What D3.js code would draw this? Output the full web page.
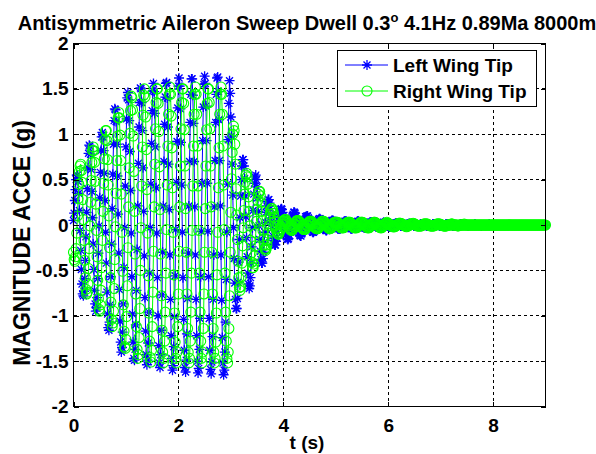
<!DOCTYPE html>
<html>
<head>
<meta charset="utf-8">
<script src="https://cdn.jsdelivr.net/npm/d3@7"></script>
<style>
  body { margin: 0; background: #fff; }
  svg { display: block; }
  text { font-family: "Liberation Sans", Arial, sans-serif; font-weight: bold; fill: #000; }
</style>
</head>
<body>
<svg id="chart" width="596" height="454"></svg>
<script>
// Wing-tip accelerations (g), one sample every sampleInterval seconds from t = 0
const sampleInterval = 0.0125;

const leftWingTip = [
  0.05, 0.13, 0.27, 0.39, 0.50, 0.55, 0.55, 0.48, 0.35, 0.16, -0.06, -0.28, -0.49, -0.65, -0.76, -0.78, -0.73, -0.59, -0.39, -0.13,
  0.14, 0.40, 0.63, 0.79, 0.88, 0.87, 0.78, 0.61, 0.37, 0.08, -0.21, -0.49, -0.72, -0.87, -0.95, -0.91, -0.80, -0.59, -0.31, -0.01,
  0.30, 0.58, 0.82, 0.97, 1.02, 0.97, 0.82, 0.57, 0.27, -0.08, -0.42, -0.74, -0.98, -1.13, -1.16, -1.07, -0.88, -0.57, -0.21, 0.18,
  0.56, 0.89, 1.15, 1.28, 1.27, 1.14, 0.89, 0.54, 0.12, -0.31, -0.71, -1.06, -1.29, -1.40, -1.35, -1.18, -0.87, -0.47, -0.03, 0.43,
  0.86, 1.17, 1.40, 1.46, 1.38, 1.15, 0.81, 0.38, -0.09, -0.57, -0.98, -1.29, -1.47, -1.49, -1.37, -1.10, -0.72, -0.27, 0.21, 0.68,
  1.08, 1.35, 1.51, 1.50, 1.35, 1.04, 0.63, 0.15, -0.34, -0.80, -1.17, -1.43, -1.54, -1.49, -1.30, -0.96, -0.53, -0.03, 0.45, 0.90,
  1.26, 1.48, 1.56, 1.47, 1.23, 0.86, 0.41, -0.09, -0.58, -1.00, -1.33, -1.52, -1.57, -1.43, -1.16, -0.77, -0.30, 0.21, 0.70, 1.11,
  1.41, 1.56, 1.57, 1.40, 1.08, 0.67, 0.17, -0.33, -0.82, -1.22, -1.47, -1.60, -1.55, -1.34, -1.01, -0.56, -0.05, 0.47, 0.92, 1.29,
  1.53, 1.62, 1.53, 1.28, 0.91, 0.44, -0.08, -0.58, -1.04, -1.38, -1.57, -1.62, -1.49, -1.20, -0.81, -0.31, 0.21, 0.70, 1.13, 1.44,
  1.61, 1.61, 1.43, 1.12, 0.70, 0.20, -0.33, -0.82, -1.22, -1.50, -1.63, -1.58, -1.37, -1.03, -0.57, -0.07, 0.46, 0.93, 1.30, 1.55,
  1.64, 1.56, 1.31, 0.93, 0.46, -0.07, -0.57, -1.03, -1.38, -1.59, -1.64, -1.51, -1.23, -0.82, -0.33, 0.20, 0.71, 1.13, 1.44, 1.62,
  1.63, 1.47, 1.16, 0.71, 0.21, -0.33, -0.83, -1.24, -1.52, -1.65, -1.60, -1.40, -1.07, -0.60, -0.08, 0.45, 0.94, 1.34, 1.59, 1.45,
  1.19, 0.98, 0.67, 0.33, -0.03, -0.37, -0.64, -0.82, -0.92, -0.92, -0.81, -0.63, -0.41, -0.16, 0.08, 0.32, 0.50, 0.65, 0.72, 0.72,
  0.65, 0.51, 0.32, 0.09, -0.14, -0.35, -0.53, -0.65, -0.70, -0.67, -0.58, -0.42, -0.24, -0.03, 0.16, 0.34, 0.46, 0.53, 0.55, 0.50,
  0.42, 0.30, 0.15, -0.01, -0.16, -0.29, -0.38, -0.42, -0.42, -0.37, -0.30, -0.19, -0.08, 0.03, 0.14, 0.21, 0.26, 0.28, 0.28, 0.24,
  0.18, 0.11, 0.04, -0.04, -0.12, -0.17, -0.21, -0.22, -0.22, -0.18, -0.14, -0.07, -0.01, 0.05, 0.10, 0.14, 0.17, 0.18, 0.17, 0.14,
  0.10, 0.05, 0.00, -0.05, -0.10, -0.13, -0.15, -0.16, -0.15, -0.11, -0.08, -0.03, 0.01, 0.06, 0.10, 0.12, 0.14, 0.14, 0.13, 0.09,
  0.06, 0.02, -0.02, -0.06, -0.09, -0.11, -0.12, -0.12, -0.10, -0.07, -0.04, -0.01, 0.03, 0.06, 0.09, 0.09, 0.10, 0.10, 0.08, 0.05,
  0.03, 0.00, -0.03, -0.05, -0.07, -0.08, -0.08, -0.07, -0.06, -0.04, -0.02, 0.01, 0.03, 0.05, 0.06, 0.07, 0.07, 0.06, 0.05, 0.03,
  0.01, -0.01, -0.03, -0.04, -0.05, -0.06, -0.06, -0.05, -0.04, -0.02, 0.00, 0.01, 0.03, 0.04, 0.05, 0.05, 0.05, 0.04, 0.03, 0.02,
  0.00, -0.01, -0.03, -0.04, -0.04, -0.04, -0.04, -0.04, -0.02, -0.01, 0.00, 0.02, 0.03, 0.04, 0.04, 0.04, 0.04, 0.03, 0.02, 0.01,
  -0.01, -0.02, -0.03, -0.04, -0.04, -0.04, -0.03, -0.03, -0.02, 0.00, 0.01, 0.02, 0.03, 0.04, 0.04, 0.04, 0.03, 0.02, 0.01, 0.00,
  -0.01, -0.02, -0.02, -0.03, -0.03, -0.03, -0.02, -0.02, -0.01, 0.00, 0.01, 0.02, 0.03, 0.03, 0.03, 0.03, 0.02, 0.01, 0.01, 0.00,
  -0.01, -0.02, -0.02, -0.02, -0.02, -0.02, -0.02, -0.01, 0.00, 0.01, 0.01, 0.02, 0.02, 0.03, 0.02, 0.02, 0.02, 0.01, 0.00, -0.01,
  -0.01, -0.02, -0.02, -0.02, -0.02, -0.02, -0.01, -0.01, 0.00, 0.01, 0.01, 0.02, 0.02, 0.02, 0.02, 0.01, 0.01, 0.00, 0.00, -0.01,
  -0.01, -0.01, -0.01, -0.01, -0.01, -0.01, -0.01, 0.00, 0.00, 0.01, 0.01, 0.01, 0.02, 0.01, 0.01, 0.01, 0.01, 0.00, 0.00, -0.01,
  -0.01, -0.01, -0.01, -0.01, -0.01, -0.01, 0.00, 0.00, 0.00, 0.01, 0.01, 0.01, 0.01, 0.01, 0.01, 0.01, 0.00, 0.00, -0.01, -0.01,
  -0.01, -0.01, -0.01, -0.01, -0.01, 0.00, 0.00, 0.00, 0.01, 0.01, 0.01, 0.01, 0.01, 0.01, 0.01, 0.00, 0.00, 0.00, -0.01, -0.01,
  -0.01, -0.01, -0.01, -0.01, -0.01, 0.00, 0.00, 0.00, 0.01, 0.01, 0.01, 0.01, 0.01, 0.01, 0.00, 0.00, 0.00, 0.00, -0.01, -0.01,
  -0.01, 0.00, -0.01, -0.01, 0.00, 0.00, 0.00, 0.00, 0.00, 0.00, 0.01, 0.01, 0.01, 0.00, 0.00, 0.00, 0.00, 0.00, 0.00, 0.00,
  0.00, 0.00, -0.01, 0.00, 0.00, 0.00, 0.00, 0.00, 0.00, 0.00, 0.00, 0.00, 0.01, 0.01, 0.00, 0.00, 0.00, 0.00, 0.00, 0.00,
  0.00, 0.00, -0.01, 0.00, 0.00, 0.00, 0.00, 0.00, 0.00, 0.00, 0.00, 0.00, 0.00, 0.00, 0.01, 0.00, 0.00, 0.00, 0.00, 0.00,
  0.00, 0.00, 0.00, 0.00, 0.00, 0.00, 0.00, 0.00, 0.00, 0.00, 0.00, 0.00, 0.00, 0.00, 0.00, 0.00, 0.00, 0.00, 0.00, 0.00,
  0.00, 0.00, 0.00, 0.00, 0.00, 0.00, 0.00, 0.00, 0.00, 0.00, 0.00, 0.00, 0.00, 0.00, 0.00, 0.00, 0.00, 0.00, 0.00, 0.00,
  0.00, 0.00, 0.00, 0.00, 0.00, 0.00, 0.00, 0.00, 0.00, 0.00, 0.00, 0.00, 0.00, 0.00, 0.00, 0.00, 0.00, 0.00, 0.00, 0.00,
  0.00, 0.00, 0.00, 0.00, 0.00, 0.00, 0.00, 0.00, 0.00, 0.00, 0.00, 0.00, 0.00, 0.00, 0.00, 0.00, 0.00, 0.00, 0.00, 0.00,
  0.00
];

const rightWingTip = [
  -0.30, -0.38, -0.40, -0.35, -0.26, -0.09, 0.10, 0.29, 0.45, 0.59, 0.65, 0.67, 0.60, 0.47, 0.28, 0.06, -0.17, -0.39, -0.58, -0.71,
  -0.76, -0.74, -0.65, -0.48, -0.26, -0.01, 0.25, 0.49, 0.69, 0.82, 0.86, 0.82, 0.69, 0.48, 0.23, -0.06, -0.35, -0.61, -0.81, -0.93,
  -0.95, -0.88, -0.72, -0.47, -0.17, 0.15, 0.46, 0.73, 0.94, 1.04, 1.04, 0.93, 0.72, 0.44, 0.10, -0.25, -0.58, -0.85, -1.04, -1.12,
  -1.08, -0.95, -0.70, -0.38, -0.02, 0.35, 0.71, 0.98, 1.18, 1.24, 1.18, 0.99, 0.71, 0.34, -0.08, -0.51, -0.88, -1.17, -1.34, -1.36,
  -1.26, -1.01, -0.67, -0.25, 0.20, 0.63, 1.01, 1.26, 1.42, 1.40, 1.27, 0.98, 0.59, 0.15, -0.32, -0.76, -1.12, -1.37, -1.47, -1.43,
  -1.24, -0.92, -0.50, -0.03, 0.43, 0.86, 1.21, 1.43, 1.50, 1.41, 1.19, 0.83, 0.39, -0.09, -0.56, -0.97, -1.28, -1.46, -1.51, -1.38,
  -1.12, -0.74, -0.29, 0.20, 0.67, 1.06, 1.35, 1.50, 1.50, 1.34, 1.03, 0.64, 0.17, -0.32, -0.78, -1.16, -1.40, -1.52, -1.47, -1.28,
  -0.96, -0.53, -0.05, 0.44, 0.87, 1.22, 1.44, 1.52, 1.44, 1.20, 0.85, 0.41, -0.08, -0.55, -0.97, -1.29, -1.47, -1.52, -1.40, -1.12,
  -0.76, -0.29, 0.20, 0.65, 1.06, 1.35, 1.50, 1.50, 1.34, 1.05, 0.65, 0.18, -0.30, -0.76, -1.14, -1.40, -1.52, -1.47, -1.28, -0.96,
  -0.53, -0.06, 0.43, 0.87, 1.22, 1.44, 1.52, 1.44, 1.22, 0.87, 0.43, -0.06, -0.53, -0.96, -1.28, -1.47, -1.52, -1.40, -1.14, -0.76,
  -0.30, 0.18, 0.65, 1.05, 1.34, 1.50, 1.50, 1.35, 1.06, 0.65, 0.20, -0.30, -0.76, -1.14, -1.40, -1.52, -1.47, -1.29, -0.97, -0.55,
  -0.08, 0.41, 0.85, 1.22, 1.44, 1.52, 1.44, 1.22, 0.87, 0.44, -0.05, -0.53, -0.96, -1.28, -1.47, -1.52, -1.40, -1.14, -0.78, -0.30,
  0.14, 0.51, 0.80, 1.00, 1.09, 1.04, 0.89, 0.67, 0.40, 0.11, -0.16, -0.40, -0.58, -0.69, -0.72, -0.68, -0.57, -0.42, -0.23, -0.03,
  0.16, 0.34, 0.47, 0.55, 0.57, 0.53, 0.45, 0.31, 0.15, -0.01, -0.17, -0.31, -0.41, -0.47, -0.47, -0.43, -0.34, -0.23, -0.09, 0.04,
  0.17, 0.27, 0.34, 0.37, 0.37, 0.32, 0.25, 0.15, 0.05, -0.06, -0.15, -0.22, -0.26, -0.28, -0.26, -0.22, -0.16, -0.09, -0.01, 0.06,
  0.12, 0.16, 0.18, 0.18, 0.16, 0.13, 0.09, 0.04, 0.00, -0.04, -0.07, -0.09, -0.10, -0.10, -0.08, -0.06, -0.04, -0.02, 0.01, 0.03,
  0.04, 0.05, 0.06, 0.06, 0.06, 0.04, 0.03, 0.01, -0.01, -0.03, -0.04, -0.05, -0.06, -0.06, -0.05, -0.04, -0.02, 0.00, 0.01, 0.03,
  0.04, 0.05, 0.05, 0.05, 0.04, 0.03, 0.02, 0.00, -0.02, -0.03, -0.04, -0.05, -0.05, -0.05, -0.04, -0.03, -0.01, 0.00, 0.02, 0.03,
  0.04, 0.04, 0.04, 0.04, 0.03, 0.02, 0.01, -0.01, -0.02, -0.03, -0.04, -0.04, -0.04, -0.04, -0.03, -0.02, 0.00, 0.01, 0.02, 0.04,
  0.04, 0.04, 0.04, 0.03, 0.02, 0.01, 0.00, -0.01, -0.02, -0.03, -0.04, -0.04, -0.04, -0.03, -0.02, -0.01, 0.00, 0.02, 0.03, 0.03,
  0.03, 0.03, 0.03, 0.03, 0.02, 0.01, -0.01, -0.02, -0.03, -0.03, -0.03, -0.03, -0.03, -0.02, -0.01, 0.00, 0.01, 0.02, 0.03, 0.03,
  0.03, 0.03, 0.03, 0.02, 0.01, 0.00, -0.01, -0.02, -0.03, -0.03, -0.03, -0.03, -0.03, -0.02, -0.01, 0.00, 0.01, 0.02, 0.03, 0.03,
  0.03, 0.03, 0.02, 0.01, 0.01, 0.00, -0.01, -0.02, -0.03, -0.03, -0.03, -0.03, -0.02, -0.01, 0.00, 0.01, 0.02, 0.02, 0.03, 0.03,
  0.03, 0.02, 0.02, 0.01, 0.00, -0.01, -0.02, -0.02, -0.03, -0.03, -0.03, -0.02, -0.01, -0.01, 0.00, 0.01, 0.02, 0.02, 0.03, 0.02,
  0.02, 0.01, 0.01, 0.00, 0.00, -0.01, -0.01, -0.02, -0.02, -0.02, -0.02, -0.01, -0.01, 0.00, 0.00, 0.01, 0.02, 0.02, 0.02, 0.02,
  0.01, 0.01, 0.01, 0.00, 0.00, -0.01, -0.01, -0.01, -0.02, -0.01, -0.01, -0.01, 0.00, 0.00, 0.01, 0.01, 0.01, 0.01, 0.02, 0.01,
  0.01, 0.01, 0.00, 0.00, -0.01, -0.01, -0.01, -0.01, -0.01, -0.01, -0.01, -0.01, 0.00, 0.00, 0.01, 0.01, 0.01, 0.01, 0.01, 0.01,
  0.01, 0.00, 0.00, 0.00, -0.01, -0.01, -0.01, -0.01, -0.01, -0.01, -0.01, 0.00, 0.00, 0.00, 0.01, 0.01, 0.01, 0.01, 0.01, 0.01,
  0.00, 0.00, 0.00, 0.00, -0.01, -0.01, -0.01, -0.01, -0.01, -0.01, 0.00, 0.00, 0.00, 0.00, 0.00, 0.00, 0.01, 0.01, 0.01, 0.00,
  0.00, 0.00, 0.00, 0.00, 0.00, 0.00, -0.01, -0.01, 0.00, 0.00, 0.00, 0.00, 0.00, 0.00, 0.00, 0.00, 0.01, 0.00, 0.00, 0.00,
  0.00, 0.00, 0.00, 0.00, 0.00, 0.00, 0.00, 0.00, 0.00, 0.00, 0.00, 0.00, 0.00, 0.00, 0.00, 0.00, 0.00, 0.00, 0.00, 0.00,
  0.00, 0.00, 0.00, 0.00, 0.00, 0.00, 0.00, 0.00, 0.00, 0.00, 0.00, 0.00, 0.00, 0.00, 0.00, 0.00, 0.00, 0.00, 0.00, 0.00,
  0.00, 0.00, 0.00, 0.00, 0.00, 0.00, 0.00, 0.00, 0.00, 0.00, 0.00, 0.00, 0.00, 0.00, 0.00, 0.00, 0.00, 0.00, 0.00, 0.00,
  0.00, 0.00, 0.00, 0.00, 0.00, 0.00, 0.00, 0.00, 0.00, 0.00, 0.00, 0.00, 0.00, 0.00, 0.00, 0.00, 0.00, 0.00, 0.00, 0.00,
  0.00, 0.00, 0.00, 0.00, 0.00, 0.00, 0.00, 0.00, 0.00, 0.00, 0.00, 0.00, 0.00, 0.00, 0.00, 0.00, 0.00, 0.00, 0.00, 0.00,
  0.00, 0.00, 0.00, 0.00, 0.00, 0.00, 0.00, 0.00, 0.00, 0.00, 0.00, 0.00, 0.00, 0.00, 0.00, 0.00, 0.00, 0.00, 0.00, 0.00,
  0.00
];

const seriesNames = ["Left Wing Tip", "Right Wing Tip"];
const seriesColors = ["#0000ff", "#00ff00"];
const xTicks = [0, 2, 4, 6, 8];
const yTicks = [-2, -1.5, -1, -0.5, 0, 0.5, 1, 1.5, 2];

const svg = d3.select("#chart");
const x = d3.scaleLinear().domain([0, 9]).range([73.5, 545.5]);
const y = d3.scaleLinear().domain([-2, 2]).range([406.5, 43.5]);
const [x0, x1] = x.range();
const [y0, y1] = y.range();

// dotted grid
const grid = svg.append("g").attr("stroke", "#000").attr("stroke-width", 1)
  .attr("stroke-dasharray", "3,3").attr("shape-rendering", "crispEdges");
grid.selectAll("line.gx").data(xTicks.slice(1)).join("line")
  .attr("x1", d => x(d)).attr("x2", d => x(d)).attr("y1", y0).attr("y2", y1);
grid.selectAll("line.gy").data(yTicks.slice(1, -1)).join("line")
  .attr("y1", d => y(d)).attr("y2", d => y(d)).attr("x1", x0).attr("x2", x1);

// series: line plus a marker at every sample
const asterisk = "M-5,0H5M0,-5V5M-3.5,-3.5L3.5,3.5M-3.5,3.5L3.5,-3.5";
const markerRadius = 5;
const line = d3.line().x((d, i) => x(i * sampleInterval)).y(d => y(d));
const plot = svg.append("g");

function drawSeries(values, color, marker) {
  const g = plot.append("g");
  g.append("path").datum(values).attr("d", line)
    .attr("fill", "none").attr("stroke", color).attr("stroke-width", 1);
  const pts = g.selectAll("g.pt").data(values).join("g")
    .attr("transform", (d, i) => `translate(${x(i * sampleInterval)},${y(d)})`);
  if (marker === "star") {
    pts.append("path").attr("d", asterisk).attr("stroke", color).attr("stroke-width", 1.3).attr("fill", "none");
  } else {
    pts.append("circle").attr("r", markerRadius).attr("stroke", color).attr("stroke-width", 1.1).attr("fill", "none");
  }
}
drawSeries(leftWingTip, seriesColors[0], "star");
drawSeries(rightWingTip, seriesColors[1], "circle");

// axes box with inward ticks on all four sides
const fmt = d => String(d);
svg.append("g").attr("transform", `translate(0,${y0})`)
  .call(d3.axisBottom(x).tickValues(xTicks).tickSizeInner(-5).tickSizeOuter(0).tickPadding(12).tickFormat(fmt));
svg.append("g").attr("transform", `translate(0,${y1})`)
  .call(d3.axisTop(x).tickValues(xTicks).tickSizeInner(-5).tickSizeOuter(0).tickFormat(""));
svg.append("g").attr("transform", `translate(${x0},0)`)
  .call(d3.axisLeft(y).tickValues(yTicks).tickSizeInner(-5).tickSizeOuter(0).tickPadding(5).tickFormat(fmt));
svg.append("g").attr("transform", `translate(${x1},0)`)
  .call(d3.axisRight(y).tickValues(yTicks).tickSizeInner(-5).tickSizeOuter(0).tickFormat(""));
svg.selectAll(".domain").remove();
svg.selectAll(".tick line").attr("stroke", "#000").attr("shape-rendering", "crispEdges");
svg.selectAll(".tick text").attr("font-size", 19).attr("font-family", "Liberation Sans, Arial, sans-serif").attr("font-weight", "bold");
svg.append("rect").attr("x", x0).attr("y", y1).attr("width", x1 - x0).attr("height", y0 - y1)
  .attr("fill", "none").attr("stroke", "#000").attr("stroke-width", 1).attr("shape-rendering", "crispEdges");

// title
const title = svg.append("text").attr("x", 307).attr("y", 30).attr("text-anchor", "middle").attr("font-size", 20);
title.append("tspan").text("Antisymmetric Aileron Sweep Dwell 0.3");
title.append("tspan").attr("font-size", 13).attr("dy", -8).text("o");
title.append("tspan").attr("dy", 8).text(" 4.1Hz 0.89Ma 8000m");

// axis labels
svg.append("text").attr("x", 307).attr("y", 449).attr("text-anchor", "middle").attr("font-size", 19).text("t (s)");
svg.append("text").attr("transform", "translate(30,243) rotate(-90)").attr("text-anchor", "middle")
  .attr("font-size", 23).text("MAGNITUDE ACCE (g)");

// legend
const legend = svg.append("g");
legend.append("rect").attr("x", 337.5).attr("y", 50.5).attr("width", 199).attr("height", 56)
  .attr("fill", "#fff").attr("stroke", "#000").attr("stroke-width", 1).attr("shape-rendering", "crispEdges");
seriesNames.forEach((name, k) => {
  const ly = 65 + k * 26;
  legend.append("line").attr("x1", 345).attr("x2", 388).attr("y1", ly).attr("y2", ly)
    .attr("stroke", seriesColors[k]).attr("stroke-width", 1);
  if (k === 0) {
    legend.append("path").attr("d", asterisk).attr("transform", `translate(367,${ly})`)
      .attr("stroke", seriesColors[k]).attr("stroke-width", 1.3).attr("fill", "none");
  } else {
    legend.append("circle").attr("cx", 367).attr("cy", ly).attr("r", markerRadius)
      .attr("stroke", seriesColors[k]).attr("stroke-width", 1.1).attr("fill", "none");
  }
  legend.append("text").attr("x", 393).attr("y", ly + 7).attr("font-size", 19).text(name);
});
</script>
</body>
</html>
